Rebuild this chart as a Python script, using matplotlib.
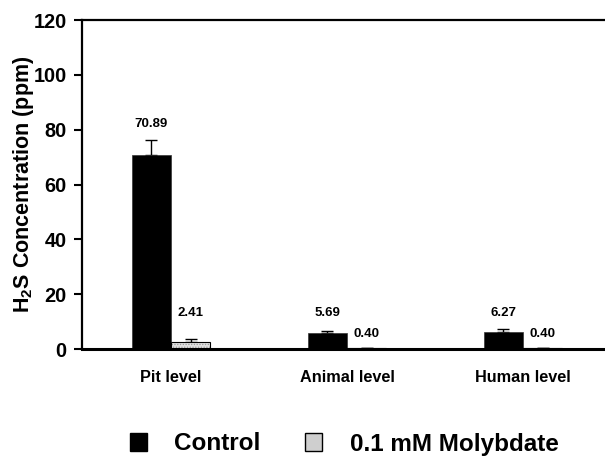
import matplotlib
matplotlib.use("Agg")
import matplotlib.pyplot as plt
import matplotlib.patches as mpatches
import numpy as np

# 데이터
categories = ["Pit level", "Animal level", "Human level"]
control = [70.89, 5.69, 6.27]
control_err = [5.3, 0.9, 1.1]
molybdate = [2.41, 0.40, 0.40]
molybdate_err = [1.1, 0.1, 0.1]
control_label_y = [82, 13, 13.2]
molybdate_label_y = [13, 5.5, 5.5]
yticks = [0, 20, 40, 60, 80, 100, 120]

plt.rcParams["font.family"] = ["Liberation Sans", "DejaVu Sans"]
plt.rcParams["font.weight"] = "bold"
plt.rcParams["mathtext.fontset"] = "custom"
plt.rcParams["mathtext.rm"] = "Liberation Sans:bold"
plt.rcParams["mathtext.bf"] = "Liberation Sans:bold"
plt.rcParams["mathtext.default"] = "regular"
plt.rcParams["hatch.linewidth"] = 0.6

fig = plt.figure(figsize=(6.05, 4.57), dpi=100)
ax = fig.add_axes([0.1355, 0.2363, 0.8645, 0.7197])

x = np.arange(len(categories))
w = 0.223

ax.bar(x - w / 2, control, w, color="black", edgecolor="#333333", linewidth=0.5, zorder=2)
# 회색 점무늬 막대 (무늬 + 테두리 따로)
ax.bar(x + w / 2, molybdate, w, color="#e2e2e2", edgecolor="#9a9a9a", linewidth=0,
       hatch="......", zorder=2)
ax.bar(x + w / 2, molybdate, w, color="none", edgecolor="black", linewidth=0.8, zorder=3)
ax.errorbar(x - w / 2, control, yerr=[np.zeros(3), control_err], fmt="none",
            ecolor="black", elinewidth=1, capsize=4, capthick=1, zorder=1)
ax.errorbar(x + w / 2, molybdate, yerr=[np.zeros(3), molybdate_err], fmt="none",
            ecolor="black", elinewidth=1, capsize=4, capthick=1, zorder=1)

for i in range(len(categories)):
    ax.text(x[i] - w / 2, control_label_y[i], f"{control[i]:.2f}", ha="center",
            va="center", fontsize=9.5, fontweight="bold")
    ax.text(x[i] + w / 2, molybdate_label_y[i], f"{molybdate[i]:.2f}", ha="center",
            va="center", fontsize=9.5, fontweight="bold")

ax.set_xlim(-0.506, 2.466)
ax.set_ylim(0, 120)
ax.set_yticks(yticks)
ax.set_yticklabels([str(t) for t in yticks], fontsize=14.3, fontweight="bold")
ax.set_xticks(x)
ax.set_xticklabels(categories, fontsize=11.7, fontweight="bold")
ax.tick_params(axis="x", length=0, pad=15)
ax.tick_params(axis="y", direction="out", length=6, width=1.5, pad=5)

ax.spines["right"].set_visible(False)
for s in ["left", "top", "bottom"]:
    ax.spines[s].set_linewidth(1.6)
ax.spines["bottom"].set_linewidth(2.2)

ax.set_ylabel(r"H$_2$S Concentration (ppm)", fontsize=15.5, fontweight="bold", labelpad=-2)

handles = [
    mpatches.Patch(facecolor="black", edgecolor="black", label="Control"),
    mpatches.Patch(facecolor="#cfcfcf", edgecolor="black", label="0.1 mM Molybdate"),
]
fig.legend(handles=handles, loc="center", bbox_to_anchor=(344 / 605, 1 - 444 / 457),
           ncol=2, frameon=False, prop={"size": 17.5, "weight": "bold"},
           handlelength=0.7, handleheight=0.7, handletextpad=1.15, columnspacing=1.8)

fig.savefig("out.png", dpi=100, facecolor="white")
